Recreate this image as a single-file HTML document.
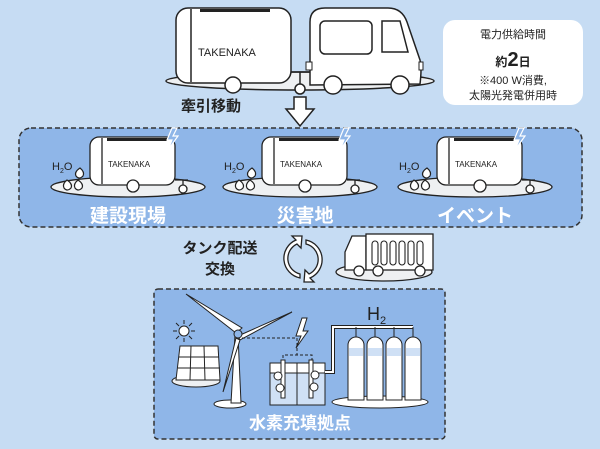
<!DOCTYPE html>
<html><head><meta charset="utf-8"><style>
html,body{margin:0;padding:0;background:#c6dcf3;}
svg{display:block;font-family:"Liberation Sans","Noto Sans CJK JP",sans-serif;}
</style></head><body>
<svg width="600" height="449" viewBox="0 0 600 449" xmlns="http://www.w3.org/2000/svg">
<rect width="600" height="449" fill="#c6dcf3"/>
<!-- top vehicle -->
<ellipse cx="300" cy="81" rx="134" ry="9" fill="#eef0f2" stroke="#222" stroke-width="1.5"/>
<rect x="176" y="8" width="115" height="75" rx="12" fill="#fff" stroke="#222" stroke-width="1.5"/>
<line x1="191" y1="9" x2="191" y2="82" stroke="#222" stroke-width="1.5"/>
<rect x="200" y="9" width="70" height="3" fill="#222"/>
<text x="198" y="56" font-size="11" fill="#222">TAKENAKA</text>
<circle cx="233" cy="85" r="8" fill="#fff" stroke="#222" stroke-width="1.5"/>
<line x1="291" y1="72" x2="312" y2="72" stroke="#222" stroke-width="1.5"/>
<line x1="300" y1="72" x2="300" y2="84" stroke="#222" stroke-width="1.5"/>
<circle cx="300" cy="89" r="5" fill="#fff" stroke="#222" stroke-width="1.5"/>
<path d="M310 85 L310 22 Q310 8 325 8 L388 8 Q402 8 407 22 L420 60 Q422 68 420 84 Z" fill="#fff" stroke="#222" stroke-width="1.5"/>
<rect x="320" y="21" width="52" height="33" rx="5" fill="#fff" stroke="#222" stroke-width="1.5"/>
<path d="M382 21 L400 21 L408 52 L382 52 Z" fill="#fff" stroke="#222" stroke-width="1.5"/>
<rect x="306" y="62" width="6" height="8" fill="#fff" stroke="#222"/>
<rect x="419" y="62" width="4" height="8" fill="#fff" stroke="#222"/>
<circle cx="333" cy="85" r="9" fill="#fff" stroke="#222" stroke-width="1.5"/>
<circle cx="400" cy="85" r="9" fill="#fff" stroke="#222" stroke-width="1.5"/>
<!-- info box -->
<rect x="443" y="20" width="140" height="85" rx="12" fill="#fff"/>
<text x="513" y="38" font-size="11" text-anchor="middle" fill="#222">電力供給時間</text>
<text x="513" y="66" text-anchor="middle" fill="#222" font-weight="bold"><tspan font-size="12">約</tspan><tspan font-size="20">2</tspan><tspan font-size="12">日</tspan></text>
<text x="513" y="84" font-size="11" text-anchor="middle" fill="#222">※400 W消費,</text>
<text x="513" y="99" font-size="11" text-anchor="middle" fill="#222">太陽光発電併用時</text>
<!-- tow label + arrow -->
<text x="181" y="111" font-size="15" font-weight="bold" fill="#222">牽引移動</text>
<path d="M294 97 L306 97 L306 109 L314 109 L300 126 L286 109 L294 109 Z" fill="#fff" stroke="#222" stroke-width="1.5"/>
<!-- dashed box 1 -->
<rect x="19" y="128" width="563" height="99" rx="12" fill="#8fb6e8" stroke="#333" stroke-width="1.5" stroke-dasharray="5,3"/>
<defs>
<g id="st">
<ellipse cx="128" cy="187" rx="77" ry="10" fill="#eef0f2" stroke="#222" stroke-width="1.3"/>
<rect x="90" y="137" width="85" height="48" rx="9" fill="#fff" stroke="#222" stroke-width="1.3"/>
<line x1="102" y1="138" x2="102" y2="184" stroke="#222" stroke-width="1.3"/>
<rect x="107" y="138" width="60" height="3" fill="#222"/>
<text x="108" y="167" font-size="8" fill="#222">TAKENAKA</text>
<circle cx="133" cy="186" r="6" fill="#fff" stroke="#222" stroke-width="1.3"/>
<path d="M175 180 L188 180 M183 180 L183 186" stroke="#222" stroke-width="1.3"/>
<circle cx="183" cy="189" r="4" fill="#fff" stroke="#222" stroke-width="1.3"/>
<path d="M172 128 L167 140 L172 140 L168 150 L178 136 L173 136 L177 128 Z" fill="#8fb6e8" stroke="#fff" stroke-width="1.2"/>
<text x="52" y="170" font-size="11" fill="#222">H<tspan font-size="7" dy="3">2</tspan><tspan dy="-3">O</tspan></text>
<path d="M80 168 q-6 4 -4 8 q3 4 7 0 q2 -4 -3 -8z M67 180 q-5 4 -3 8 q3 4 7 0 q2 -4 -4 -8z M78 180 q-5 4 -3 8 q3 4 7 0 q2 -4 -4 -8z" fill="#fff" stroke="#222" stroke-width="1.2"/>
</g>
</defs>
<use href="#st"/>
<use href="#st" x="172"/>
<use href="#st" x="347"/>
<g font-size="19" font-weight="bold" fill="#fff" text-anchor="middle">
<text x="128" y="222">建設現場</text>
<text x="305" y="222">災害地</text>
<text x="475" y="222">イベント</text>
</g>
<!-- exchange -->
<text x="220" y="253" font-size="15" font-weight="bold" fill="#222" text-anchor="middle">タンク配送</text>
<text x="220" y="274" font-size="15" font-weight="bold" fill="#222" text-anchor="middle">交換</text>
<g fill="#fff" stroke="#222" stroke-width="1.3">
<path d="M296 240 A20 20 0 0 0 300 278 L300 274 A16 16 0 0 1 297 244 L301 248 L302 236 L292 236 Z"/>
<path d="M310 278 A20 20 0 0 0 306 240 L306 244 A16 16 0 0 1 309 274 L305 270 L304 282 L314 282 Z"/>
</g>
<ellipse cx="384" cy="272" rx="48" ry="9" fill="#eef0f2" stroke="#222" stroke-width="1.3"/>
<path d="M345 270 L345 252 L352 236 L366 236 L366 270 Z" fill="#fff" stroke="#222" stroke-width="1.3"/>
<rect x="366" y="234" width="67" height="36" fill="#fff" stroke="#222" stroke-width="1.3"/>
<g fill="#fff" stroke="#222" stroke-width="1.1">
<rect x="372" y="241" width="6" height="24" rx="3"/><rect x="381" y="241" width="6" height="24" rx="3"/><rect x="390" y="241" width="6" height="24" rx="3"/><rect x="399" y="241" width="6" height="24" rx="3"/><rect x="408" y="241" width="6" height="24" rx="3"/><rect x="417" y="241" width="6" height="24" rx="3"/>
</g>
<g fill="#fff" stroke="#222" stroke-width="1.3">
<circle cx="359" cy="271" r="5"/><circle cx="378" cy="271" r="5"/><circle cx="420" cy="271" r="5"/></g>
<!-- dashed box 2 -->
<rect x="154" y="289" width="291" height="150" rx="4" fill="#8fb6e8" stroke="#333" stroke-width="1.5" stroke-dasharray="5,3"/>
<!-- solar -->
<circle cx="184" cy="331" r="5" fill="#fff" stroke="#222"/>
<g stroke="#222" stroke-width="1"><path d="M184 320v4M184 338v4M173 331h4M191 331h4M176 323l3 3M189 336l3 3M192 323l-3 3M176 339l3-3"/></g>
<ellipse cx="196" cy="381" rx="24" ry="6" fill="#eef0f2" stroke="#222"/>
<path d="M180 346 L218 346 L220 380 L176 380 Z" fill="#fff" stroke="#222"/>
<path d="M179 357 H219 M178 368 H220 M191 346 L190 380 M204 346 L205 380" stroke="#222"/>
<!-- turbine -->
<ellipse cx="230" cy="404" rx="16" ry="4" fill="#fff" stroke="#222"/>
<path d="M235 335 L238 335 L241 403 L231 403 Z" fill="#fff" stroke="#222"/>
<path d="M236 333 L186 294 L242 328 Z M238 336 L292 312 L240 340 Z M236 338 L223 392 L240 340 Z" fill="#fff" stroke="#222"/>
<circle cx="238" cy="334" r="4" fill="#8fb6e8" stroke="#222"/>
<path d="M242 338 H297 V355" fill="none" stroke="#222" stroke-dasharray="3,2"/>
<!-- electrolyzer -->
<path d="M283 363 V355 H312 V363" fill="none" stroke="#222" stroke-dasharray="3,2"/>
<path d="M302 318 L296 336 L301 336 L296 348 L308 331 L303 331 L307 318 Z" fill="#fff" stroke="#222"/>
<rect x="270" y="363" width="55" height="42" fill="#cfe0f5" stroke="#222"/>
<rect x="270" y="363" width="55" height="10" fill="#fff" stroke="#222"/>
<line x1="297" y1="363" x2="297" y2="405" stroke="#222"/>
<rect x="281" y="360" width="4" height="38" fill="#fff" stroke="#222"/>
<rect x="309" y="360" width="4" height="38" fill="#fff" stroke="#222"/>
<g fill="#fff" stroke="#222"><circle cx="278" cy="376" r="4"/><circle cx="280" cy="388" r="4"/><circle cx="315" cy="375" r="4"/><circle cx="314" cy="387" r="4"/></g>
<path d="M325 372 H333 V327 H413" fill="none" stroke="#222" stroke-width="4"/>
<path d="M325 372 H333 V327 H413" fill="none" stroke="#fff" stroke-width="2"/>
<text x="367" y="320" font-size="18" fill="#222">H<tspan font-size="11" dy="4">2</tspan></text>
<ellipse cx="380" cy="402" rx="48" ry="6" fill="#fff" stroke="#222"/>
<g fill="#fff" stroke="#222">
<path d="M348 400 V345 a8 8 0 0 1 16 0 V400 Z"/><path d="M367 400 V345 a8 8 0 0 1 16 0 V400 Z"/><path d="M386 400 V345 a8 8 0 0 1 16 0 V400 Z"/><path d="M405 400 V345 a8 8 0 0 1 16 0 V400 Z"/>
<path d="M356 337 V327 M375 337 V327 M394 337 V327 M413 337 V327"/>
</g>
<g fill="#cfe0f5"><rect x="349" y="348" width="14" height="8"/><rect x="368" y="348" width="14" height="8"/><rect x="387" y="348" width="14" height="8"/><rect x="406" y="348" width="14" height="8"/></g>
<text x="300" y="429" font-size="17" font-weight="bold" fill="#fff" text-anchor="middle">水素充填拠点</text>
</svg>
</body></html>
